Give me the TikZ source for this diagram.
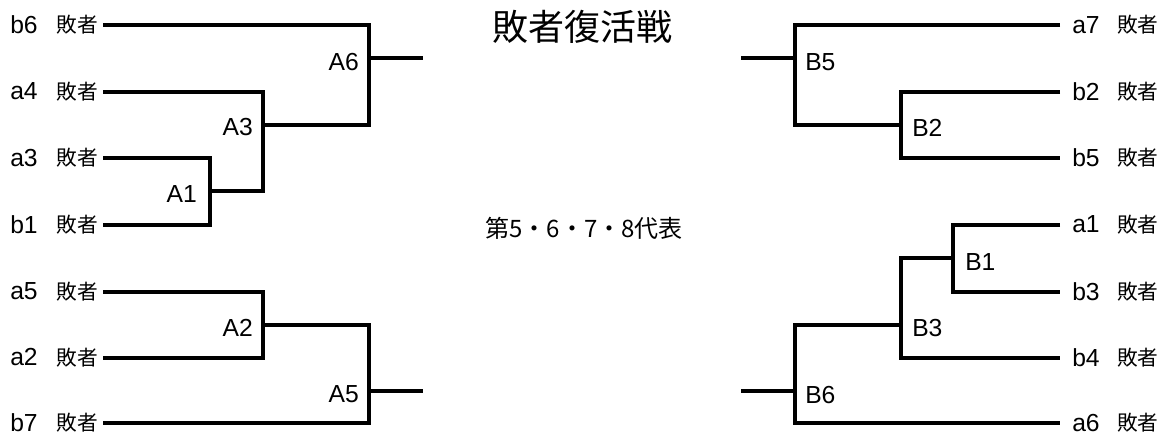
\documentclass[tikz,border=0pt]{standalone}
\usepackage{fontspec}
\setmainfont{Liberation Sans}
\newfontfamily\cjk{Noto Sans CJK JP}
\begin{document}
\begin{tikzpicture}[x=0.75pt,y=-0.75pt,
  br/.style={line width=3pt},
  ent/.style={inner sep=0pt,font=\fontsize{18.5}{20}\selectfont},
  lose/.style={inner sep=0pt,font=\cjk\fontsize{15.5}{18}\selectfont},
  mlab/.style={inner sep=0pt,font=\fontsize{18.5}{20}\selectfont},
  ttl/.style={inner sep=0pt,font=\cjk\fontsize{27}{30}\selectfont},
  sub/.style={inner sep=0pt,font=\cjk\fontsize{18}{20}\selectfont}]
\useasboundingbox (0,0) rectangle (1168,436);
% titles
\node[ttl] (title) at (582,27) {敗者復活戦};
\node[sub] (rep) at (584,228) {第5・6・7・8代表};
% left entrants
\foreach \n/\y in {b6/25,a4/91.5,a3/158,b1/224.5,a5/291.5,a2/357.5,b7/423}{
  \node[ent,anchor=west] (t\n) at (10,\y) {\n};
  \node[lose,anchor=east] (s\n) at (98,\y) {敗者};
  \coordinate (L\n) at (103,\y);
}
% right entrants
\foreach \n/\y in {a7/25,b2/91.5,b5/158,a1/224.5,b3/291.5,b4/357.5,a6/423}{
  \coordinate (R\n) at (1060,\y);
  \node[ent,anchor=west] (t\n) at (1072,\y) {\n};
  \node[lose,anchor=west] (s\n) at (1117,\y) {敗者};
}
% left matches
\coordinate (A1) at (210,191);
\coordinate (A3) at (263,125);
\coordinate (A6) at (369,58);
\coordinate (A2) at (263,324.5);
\coordinate (A5) at (369,390.5);
\coordinate (A6e) at (423,58);
\coordinate (A5e) at (423,390.5);
\draw[br] (La3) -| (A1) |- (Lb1);
\draw[br] (La4) -| (A3) |- (A1);
\draw[br] (Lb6) -| (A6) |- (A3);
\draw[br] (A6) -- (A6e);
\draw[br] (La5) -| (A2) |- (La2);
\draw[br] (A2) -| (A5) |- (Lb7);
\draw[br] (A5) -- (A5e);
\node[mlab,anchor=east] (lA6) at (359,62) {A6};
\node[mlab,anchor=east] (lA3) at (253,127) {A3};
\node[mlab,anchor=east] (lA1) at (197,194) {A1};
\node[mlab,anchor=east] (lA2) at (253,328) {A2};
\node[mlab,anchor=east] (lA5) at (359,394) {A5};
% right matches
\coordinate (B5) at (795,58);
\coordinate (B2) at (901,125);
\coordinate (B1) at (953,258);
\coordinate (B3) at (901,324.5);
\coordinate (B6) at (795,390.5);
\coordinate (B5e) at (741,58);
\coordinate (B6e) at (741,390.5);
\draw[br] (Rb2) -| (B2) |- (Rb5);
\draw[br] (Ra7) -| (B5) |- (B2);
\draw[br] (B5) -- (B5e);
\draw[br] (Ra1) -| (B1) |- (Rb3);
\draw[br] (B1) -| (B3) |- (Rb4);
\draw[br] (B3) -| (B6) |- (Ra6);
\draw[br] (B6) -- (B6e);
\node[mlab,anchor=west] (lB5) at (805,62) {B5};
\node[mlab,anchor=west] (lB2) at (912,128) {B2};
\node[mlab,anchor=west] (lB1) at (965,262) {B1};
\node[mlab,anchor=west] (lB3) at (912,328) {B3};
\node[mlab,anchor=west] (lB6) at (805,395) {B6};
\end{tikzpicture}
\end{document}
